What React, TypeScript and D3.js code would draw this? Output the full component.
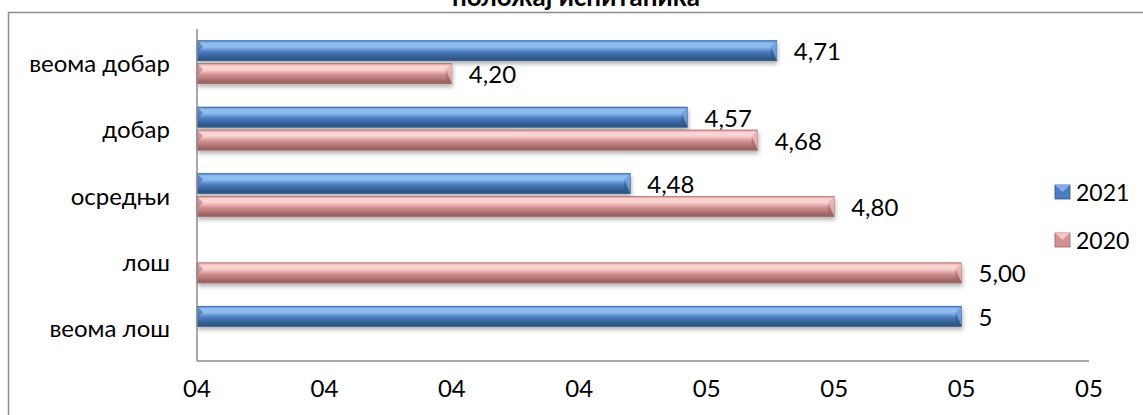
import React from "react";
import * as d3 from "d3";

const categories = ["веома добар", "добар", "осредњи", "лош", "веома лош"];
const seriesNames = ["2021", "2020"];
const values2021: (number | null)[] = [4.71, 4.57, 4.48, null, 5];
const values2020: (number | null)[] = [4.2, 4.68, 4.8, 5.0, null];
const labels2021 = ["4,71", "4,57", "4,48", "", "5"];
const labels2020 = ["4,20", "4,68", "4,80", "5,00", ""];
const xTicks = [3.8, 4.0, 4.2, 4.4, 4.6, 4.8, 5.0, 5.2];
const title = "положај испитаника";

const W = 1143;
const H = 415;
const font = "Lato, 'Open Sans', sans-serif";

const palette: Record<string, { top: string; mid: string; bot: string; facet: string }> = {
  "2021": { top: "#8fbdf2", mid: "#4b7dc1", bot: "#2d5686", facet: "#6f9fdc" },
  "2020": { top: "#fcd3d3", mid: "#d39191", bot: "#9e6363", facet: "#e9b2b2" },
};

export default function App() {
  const x = d3.scaleLinear().domain([3.8, 5.2]).range([197, 1089]);
  const y0 = d3.scaleBand<string>().domain(categories).range([29, 361]).paddingInner(0.35).paddingOuter(0.175);
  const y1 = d3.scaleBand<string>().domain(seriesNames).range([0, y0.bandwidth()]).paddingInner(0.12);
  const fmt = d3.format("02.0f");

  const series = [
    { name: "2021", values: values2021, labels: labels2021 },
    { name: "2020", values: values2020, labels: labels2020 },
  ];

  const bh = y1.bandwidth();
  const bev = Math.min(6, bh / 3);

  return (
    <svg width={W} height={H} style={{ position: "absolute", left: 0, top: 0 }} fontFamily={font}>
      <defs>
        {seriesNames.map((s) => (
          <linearGradient key={s} id={`g${s}`} x1="0" y1="0" x2="0" y2="1">
            <stop offset="0" stopColor={palette[s].mid} />
            <stop offset="0.12" stopColor={palette[s].top} />
            <stop offset="0.3" stopColor={palette[s].top} />
            <stop offset="0.55" stopColor={palette[s].mid} />
            <stop offset="0.9" stopColor={palette[s].bot} />
            <stop offset="1" stopColor={palette[s].bot} />
          </linearGradient>
        ))}
        <filter id="sh" x="-5%" y="-30%" width="110%" height="180%">
          <feGaussianBlur in="SourceAlpha" stdDeviation="2" />
          <feOffset dx="1" dy="3" result="b" />
          <feComponentTransfer>
            <feFuncA type="linear" slope="0.3" />
          </feComponentTransfer>
          <feMerge>
            <feMergeNode />
            <feMergeNode in="SourceGraphic" />
          </feMerge>
        </filter>
      </defs>
      <rect x={0} y={0} width={W} height={H} fill="#fff" />
      <rect x={8.5} y={12.5} width={W + 10} height={H + 10} fill="none" stroke="#8c8c8c" strokeWidth={1.5} />
      <text x={576} y={6} textAnchor="middle" fontWeight="bold" fontSize={26} fill="#000">
        {title}
      </text>

      {series.map((s) =>
        categories.map((c, i) => {
          const v = s.values[i];
          if (v == null) return null;
          const yy = (y0(c) as number) + (y1(s.name) as number);
          const x0 = x(3.8);
          const x1 = x(v);
          const p = palette[s.name];
          return (
            <g key={s.name + c}>
              <g filter="url(#sh)">
                <rect x={x0} y={yy} width={x1 - x0} height={bh} fill={`url(#g${s.name})`} stroke={p.bot} strokeWidth={0.6} />
              </g>
              <polygon
                points={`${x1 - bev},${yy + bev} ${x1},${yy} ${x1},${yy + bh}`}
                fill={p.facet}
                opacity={0.85}
              />
              <polygon points={`${x1 - bev},${yy + bev} ${x1},${yy + bh} ${x1 - bev},${yy + bh}`} fill={p.bot} opacity={0.5} />
              <polygon points={`${x0},${yy} ${x0 + bev},${yy + bev} ${x0},${yy + bh * 0.6}`} fill={p.bot} opacity={0.5} />
              <text x={x1 + 17} y={yy + bh / 2} dominantBaseline="central" fontSize={24} fill="#000">
                {s.labels[i]}
              </text>
            </g>
          );
        })
      )}

      <line x1={197} x2={197} y1={29} y2={361} stroke="#8c8c8c" strokeWidth={1.5} />
      <line x1={197} x2={1089} y1={361} y2={361} stroke="#8c8c8c" strokeWidth={1.5} />

      {categories.map((c) => (
        <text
          key={c}
          x={170}
          y={(y0(c) as number) + y0.bandwidth() / 2}
          textAnchor="end"
          dominantBaseline="central"
          fontSize={24}
          fill="#000"
        >
          {c}
        </text>
      ))}

      {xTicks.map((t) => (
        <text key={t} x={x(t)} y={387} textAnchor="middle" dominantBaseline="central" fontSize={24} fill="#000">
          {fmt(t)}
        </text>
      ))}

      {seriesNames.map((s, i) => {
        const ly = 192 + i * 48;
        const p = palette[s];
        return (
          <g key={s}>
            <rect x={1055} y={ly - 7} width={15} height={14} fill={p.mid} stroke={p.bot} strokeWidth={0.8} />
            <polygon points={`${1055},${ly - 7} ${1070},${ly - 7} ${1062.5},${ly}`} fill={p.top} opacity={0.8} />
            <text x={1076} y={ly} dominantBaseline="central" fontSize={23} fill="#000">
              {s}
            </text>
          </g>
        );
      })}
    </svg>
  );
}
